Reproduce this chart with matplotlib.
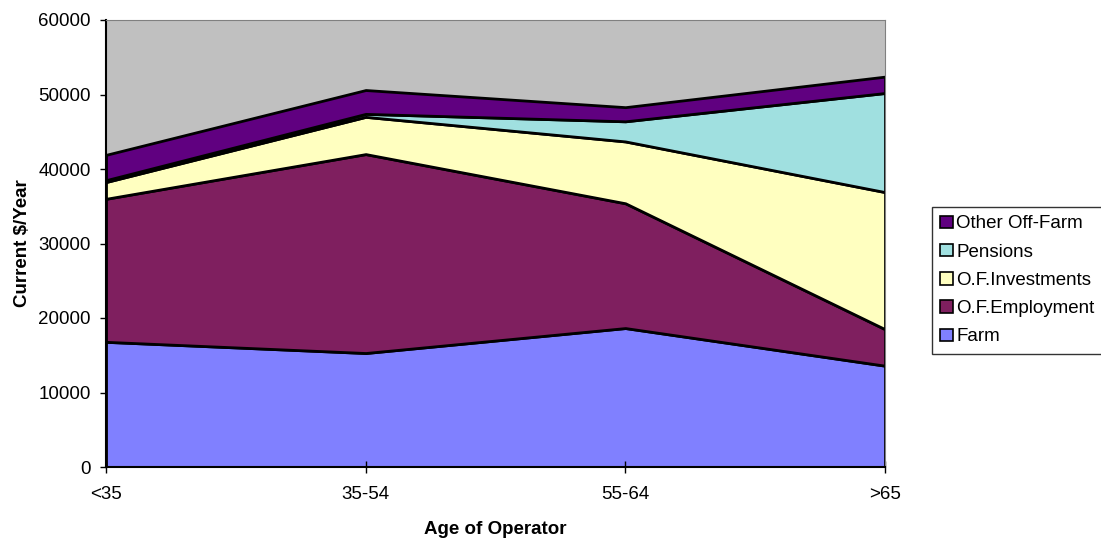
import numpy as np
import matplotlib.pyplot as plt
from matplotlib.patches import Patch

plt.rcParams['font.family'] = ['Liberation Sans', 'DejaVu Sans']

ages = ['<35', '35-54', '55-64', '>65']
farm = [16800, 15300, 18650, 13600]
employment = [19200, 26700, 16750, 4900]
investments = [2250, 5000, 8300, 18400]
pensions = [250, 400, 2700, 13300]
other = [3400, 3200, 1900, 2200]

series = [farm, employment, investments, pensions, other]
labels = ['Farm', 'O.F.Employment', 'O.F.Investments', 'Pensions', 'Other Off-Farm']
colors = ['#8080FF', '#7F1F5F', '#FFFFC0', '#A0E0E0', '#600080']
fs = 13.5

fig = plt.figure(figsize=(11.01, 5.38), dpi=100)
ax = fig.add_axes([106 / 1101, 1 - 467 / 538, (885 - 106) / 1101, (467 - 20) / 538])
ax.set_facecolor('#C0C0C0')

x = np.arange(len(ages))
ax.stackplot(x, *series, colors=colors, edgecolor='black', linewidth=2)

ax.set_xlim(0, 3)
ax.set_ylim(0, 60000)
ax.set_yticks(range(0, 60001, 10000))
ax.set_xticks(x)
ax.set_xticklabels(ages)
ax.tick_params(axis='y', direction='out', length=4.5, width=1, labelsize=fs, pad=6.5)
ax.tick_params(axis='x', direction='inout', length=8, width=1, labelsize=fs, pad=10)

for side in ['top', 'right']:
    ax.spines[side].set_color('#808080')
for side in ['left', 'bottom']:
    ax.spines[side].set_color('black')
    ax.spines[side].set_linewidth(1.5)

ax.set_ylabel('Current $/Year', fontsize=fs, fontweight='bold', labelpad=5.5)
ax.set_xlabel('Age of Operator', fontsize=fs, fontweight='bold', labelpad=13)

handles = [Patch(facecolor=c, edgecolor='black', linewidth=1.2) for c in colors]
leg = fig.legend(handles[::-1], labels[::-1], loc='upper left',
                 bbox_to_anchor=(932 / 1101, 1 - 207 / 538), fontsize=fs,
                 frameon=True, fancybox=False, handlelength=0.65, handleheight=0.65,
                 handletextpad=0.2, labelspacing=0.6, borderpad=0.45, borderaxespad=0)
leg.get_frame().set_edgecolor('black')
leg.get_frame().set_linewidth(1)

fig.savefig('out.png', dpi=100, facecolor='white')
